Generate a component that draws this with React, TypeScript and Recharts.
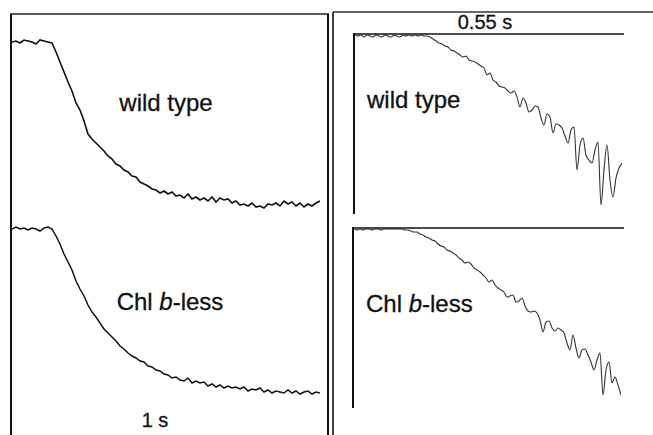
import { LineChart, Line, XAxis, YAxis } from 'recharts'

// fluorescence signal (a.u.), equally spaced samples; left panel = linear time, right panel = expanded view
const wildTypeLeft = [
  173, 174, 172, 175, 174, 173, 171, 175, 174, 173,
  172, 163, 153, 143, 133, 124, 112, 105, 94, 81,
  76, 72, 68, 64, 59, 56, 51, 49, 45, 43,
  39, 38, 33, 31, 29, 26, 25, 22, 24, 21,
  23, 19, 20, 17, 21, 16, 18, 15, 17, 14,
  18, 13, 17, 15, 16, 12, 14, 10, 11, 9,
  12, 8, 9, 7, 11, 10, 12, 9, 14, 11,
  13, 9, 12, 8, 11, 9, 12, 14,
]
const chlBLessLeft = [
  171, 173, 171, 172, 170, 172, 171, 169, 172, 173,
  171, 164, 156, 146, 138, 130, 119, 111, 104, 95,
  88, 83, 77, 71, 67, 63, 59, 54, 51, 47,
  44, 42, 39, 38, 34, 33, 30, 29, 26, 25,
  22, 23, 20, 19, 22, 17, 19, 17, 18, 14,
  16, 13, 15, 12, 14, 12, 13, 11, 13, 9,
  11, 10, 12, 8, 10, 7, 9, 8, 7, 10,
  7, 9, 6, 8, 9, 6, 8, 7,
]
const wildTypeRight = [
  179, 178, 179, 177, 179, 178, 177, 179, 178, 177,
  179, 178, 177, 179, 178, 177, 179, 178, 179, 178,
  179, 178, 179, 178, 178, 177, 175, 173, 171, 170,
  168, 167, 164, 163, 161, 159, 157, 158, 154, 153,
  152, 150, 148, 146, 139, 141, 134, 132, 128, 127,
  126, 123, 121, 123, 117, 107, 116, 111, 102, 104,
  108, 107, 96, 89, 100, 97, 81, 90, 89, 86,
  78, 71, 84, 87, 44, 69, 76, 59, 54, 51,
  64, 72, 9, 44, 69, 34, 17, 36, 46, 51,
]
const chlBLessRight = [
  179, 178, 179, 178, 179, 179, 178, 179, 179, 178,
  179, 179, 179, 179, 179, 179, 179, 178, 178, 177,
  176, 176, 174, 173, 171, 170, 168, 167, 164, 162,
  161, 158, 157, 155, 153, 150, 148, 145, 146, 144,
  140, 138, 136, 133, 130, 126, 128, 123, 120, 118,
  116, 111, 112, 113, 106, 107, 110, 102, 97, 96,
  97, 95, 88, 76, 86, 87, 80, 77, 80, 78,
  75, 65, 58, 73, 60, 50, 58, 59, 53, 46,
  38, 48, 55, 13, 38, 46, 25, 31, 23, 13,
]

const font = '"Liberation Sans", Arial, sans-serif'

function Trace({values, left, top, width, height, max, stroke, sw, curve}:{values:number[], left:number, top:number, width:number, height:number, max:number, stroke:string, sw:number, curve:'linear'|'monotone'}){
  const rows = values.map((v,i)=>({t:i, v}))
  return (
    <div style={{position:'absolute', left, top, width, height}}>
      <LineChart width={width} height={height} data={rows} margin={{top:0,right:0,bottom:0,left:0}}>
        <XAxis dataKey="t" type="number" domain={[0, values.length-1]} hide />
        <YAxis type="number" domain={[0, max]} hide />
        <Line type={curve} dataKey="v" stroke={stroke} strokeWidth={sw} dot={false} isAnimationActive={false} />
      </LineChart>
    </div>
  )
}

export default function App(){
  return (
    <div style={{position:'absolute', left:0, top:0, width:653, height:435, background:'#fff', overflow:'hidden'}}>
      <Trace values={wildTypeLeft} left={12} top={30} width={308} height={185} max={185} stroke="#111" sw={1.6} curve="linear" />
      <Trace values={chlBLessLeft} left={12} top={215} width={308} height={185} max={185} stroke="#111" sw={1.5} curve="linear" />
      <Trace values={wildTypeRight} left={355} top={34} width={267} height={180} max={180} stroke="#333" sw={1.1} curve="monotone" />
      <Trace values={chlBLessRight} left={354} top={228} width={267} height={180} max={180} stroke="#333" sw={1.1} curve="monotone" />
      <svg width={653} height={435} style={{position:'absolute', left:0, top:0, pointerEvents:'none'}}>
        {/* panel frames */}
        <line x1={10} y1={14} x2={329} y2={14} stroke="#222" strokeWidth={1.5} />
        <line x1={11} y1={14} x2={11} y2={435} stroke="#111" strokeWidth={2} />
        <line x1={328} y1={14} x2={328} y2={435} stroke="#111" strokeWidth={2} />
        <line x1={333} y1={12} x2={653} y2={12} stroke="#333" strokeWidth={1.3} />
        <line x1={333} y1={12} x2={333} y2={435} stroke="#111" strokeWidth={1.6} />
        {/* right panel axes */}
        <line x1={354} y1={34} x2={624} y2={34} stroke="#111" strokeWidth={1.5} />
        <line x1={354} y1={33} x2={354} y2={214} stroke="#111" strokeWidth={2} />
        <line x1={353} y1={228} x2={624} y2={228} stroke="#111" strokeWidth={1.5} />
        <line x1={353} y1={227} x2={353} y2={408} stroke="#111" strokeWidth={2} />
        <g fontFamily={font} fill="#111" stroke="#111" strokeWidth={0.3}>
          <text x={166} y={111} fontSize={24} textAnchor="middle">wild type</text>
          <text x={170} y={310} fontSize={24} textAnchor="middle">Chl <tspan fontStyle="italic">b</tspan>-less</text>
          <text x={155} y={427} fontSize={20} textAnchor="middle">1 s</text>
          <text x={367} y={108} fontSize={24}>wild type</text>
          <text x={366} y={312} fontSize={24}>Chl <tspan fontStyle="italic">b</tspan>-less</text>
          <text x={485} y={29} fontSize={20} textAnchor="middle">0.55 s</text>
        </g>
      </svg>
    </div>
  )
}
